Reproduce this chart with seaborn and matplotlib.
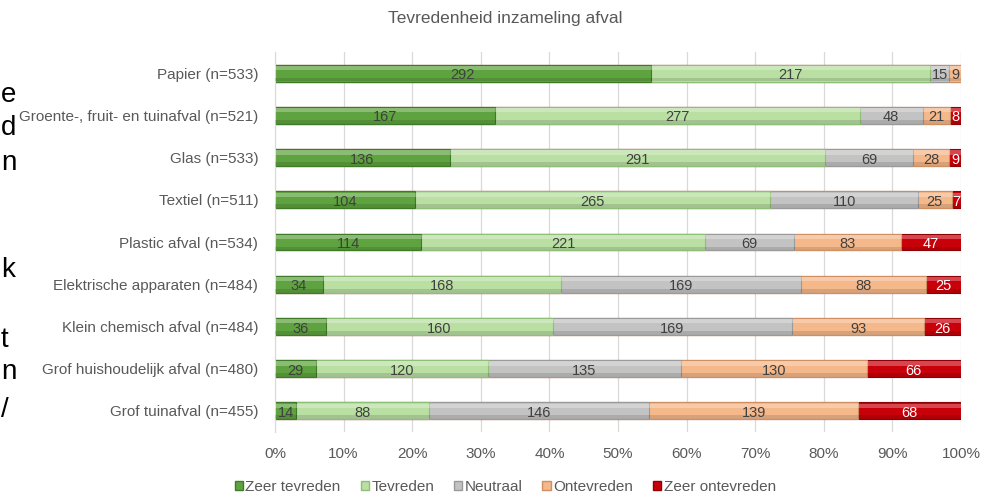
import numpy as np
import pandas as pd
import matplotlib
matplotlib.use("Agg")
import matplotlib.pyplot as plt
import seaborn as sns
from matplotlib.patches import Patch

# Data
categories = ["Papier (n=533)", "Groente-, fruit- en tuinafval (n=521)", "Glas (n=533)",
              "Textiel (n=511)", "Plastic afval (n=534)", "Elektrische apparaten (n=484)",
              "Klein chemisch afval (n=484)", "Grof huishoudelijk afval (n=480)",
              "Grof tuinafval (n=455)"]
zeer_tevreden = [292, 167, 136, 104, 114, 34, 36, 29, 14]
tevreden = [217, 277, 291, 265, 221, 168, 160, 120, 88]
neutraal = [15, 48, 69, 110, 69, 169, 169, 135, 146]
ontevreden = [9, 21, 28, 25, 83, 88, 93, 130, 139]
zeer_ontevreden = [0, 8, 9, 7, 47, 25, 26, 66, 68]

series_names = ["Zeer tevreden", "Tevreden", "Neutraal", "Ontevreden", "Zeer ontevreden"]
colors = ["#5ea33f", "#b9dfa3", "#c3c3c3", "#f5b88a", "#c8000a"]
edges = ["#3f7a28", "#8fbf76", "#9a9a9a", "#d08f60", "#8f0006"]

counts = pd.DataFrame(dict(zip(series_names, [zeer_tevreden, tevreden, neutraal,
                                               ontevreden, zeer_ontevreden])),
                      index=categories)
pct = counts.div(counts.sum(axis=1), axis=0) * 100
cum = pct.cumsum(axis=1)

plt.rcParams["font.family"] = ["Liberation Sans", "DejaVu Sans"]
fig = plt.figure(figsize=(9.81, 4.94), dpi=100)
ax = fig.add_axes([0.2803, 0.1255, 0.6993, 0.7692])

bar_h = 0.4
# stacked bars: draw cumulative totals from the back to the front
for name, col, ec in reversed(list(zip(series_names, colors, edges))):
    d = pd.DataFrame({"cat": categories, "val": cum[name].values})
    sns.barplot(data=d, x="val", y="cat", orient="h", color=col, width=bar_h,
                edgecolor=ec, linewidth=0.8, saturation=1, ax=ax, zorder=2)

# bevel look: light strip on top, darker strip at the bottom of each segment
ypos = np.arange(len(categories))
for name in series_names:
    starts = (cum[name] - pct[name]).values
    ax.barh(ypos - bar_h * 0.3, pct[name].values, left=starts, height=bar_h * 0.25,
            color="white", alpha=0.28, linewidth=0, zorder=3)
    ax.barh(ypos + bar_h * 0.38, pct[name].values, left=starts, height=bar_h * 0.22,
            color="black", alpha=0.12, linewidth=0, zorder=3)

# labels in the middle of every segment
for name in series_names:
    starts = cum[name] - pct[name]
    for i, cat in enumerate(categories):
        v = counts.loc[cat, name]
        if v == 0:
            continue
        x = starts[cat] + pct.loc[cat, name] / 2
        tc = "white" if name == "Zeer ontevreden" else "#404040"
        ax.text(x, i + 0.05, str(v), ha="center", va="center", fontsize=10.5,
                color=tc, zorder=5)

ax.set_xlim(0, 100)
ax.set_ylim(8.5, -0.5)
ax.set_xticks(np.arange(0, 101, 10))
ax.set_xticklabels([f"{t}%" for t in range(0, 101, 10)])
ax.tick_params(axis="x", length=0, pad=11, labelsize=11, labelcolor="#595959")
ax.tick_params(axis="y", length=0, pad=12, labelsize=11, labelcolor="#595959")
ax.set_xlabel("")
ax.set_ylabel("")
ax.grid(axis="x", color="#d9d9d9", linewidth=0.9, zorder=0)
ax.set_axisbelow(True)
for s in ["top", "right", "bottom"]:
    ax.spines[s].set_visible(False)
ax.spines["left"].set_color("#d9d9d9")

fig.text(0.5148, 0.962, "Tevredenheid inzameling afval", ha="center", va="center",
         fontsize=12.5, color="#595959")

handles = [Patch(facecolor=c, edgecolor=e, label=n) for n, c, e in zip(series_names, colors, edges)]
fig.legend(handles=handles, loc="center", bbox_to_anchor=(0.515, 0.014), ncol=5,
           frameon=False, fontsize=11, labelcolor="#595959", handlelength=0.55,
           handleheight=0.55, handletextpad=0.15, columnspacing=1.3)

# fragments of the surrounding page text on the left edge
for ch, y in zip(["e", "d", "n", "k", "t", "n", "/"], [95, 128, 163, 270, 340, 372, 410]):
    fig.text(1 / 981, 1 - y / 494, ch, ha="left", va="center", fontsize=20, color="black")

fig.savefig("out.png", dpi=100)
